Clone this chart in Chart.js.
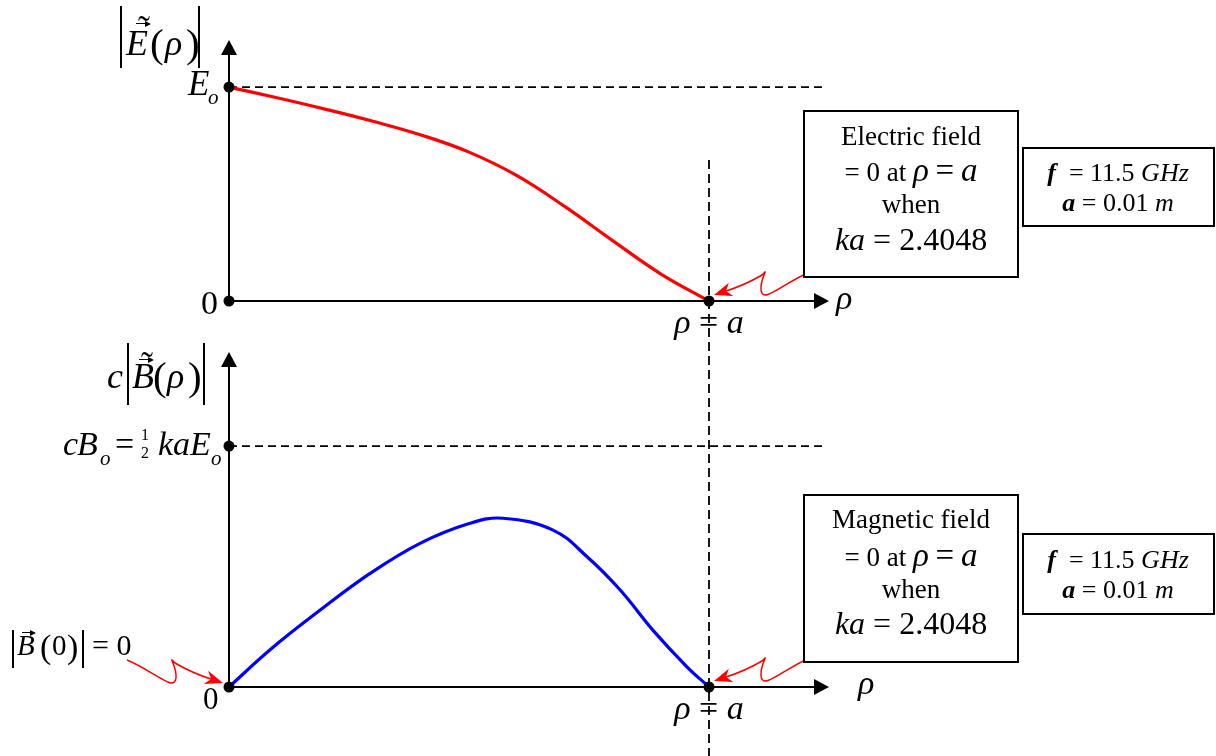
<!DOCTYPE html>
<html>
<head>
<meta charset="utf-8">
<title>TM01 fields in a circular waveguide</title>
<script src="https://cdn.jsdelivr.net/npm/chart.js@4.4.0/dist/chart.umd.min.js"></script>
<style>
  html, body { margin: 0; padding: 0; background: #fff; }
  #stage { position: relative; width: 1216px; height: 756px; overflow: hidden; }
  #stage canvas { position: absolute; left: 0; top: 0; }
  #labels { position: absolute; left: 0; top: 0; width: 1216px; height: 756px; }
  .lbl { position: absolute; line-height: 1; white-space: nowrap; color: #000;
         font-family: 'Liberation Serif', 'Times New Roman', serif; }
  .bar { position: absolute; width: 1.6px; background: #000; }
  .box { position: absolute; box-sizing: border-box; border: 2px solid #000; background: #fff; }
  .vec { position: absolute; height: 1.4px; background: #000; }
  .vec::after { content: ''; position: absolute; right: -5px; top: -2.3px;
                border-left: 6px solid #000; border-top: 3px solid transparent; border-bottom: 3px solid transparent; }
</style>
</head>
<body>
<div id="stage">
  <canvas id="chartE" width="1216" height="756"></canvas>
  <canvas id="chartB" width="1216" height="756"></canvas>
  <div id="labels"></div>
</div>
<script>
// radial position in units of a, field magnitude in units of E_o
const rhoE = [0, 0.1, 0.2, 0.3, 0.4, 0.5, 0.6, 0.7, 0.8, 0.9, 1.0];
const fieldE = [1, 0.950, 0.897, 0.840, 0.776, 0.696, 0.586, 0.441, 0.281, 0.126, 0];

const rhoB = [0, 0.085, 0.19, 0.294, 0.398, 0.502, 0.571, 0.675, 0.746, 0.815, 0.883, 0.954, 1];
const fieldB = [0, 0.185, 0.384, 0.567, 0.717, 0.817, 0.842, 0.783, 0.650, 0.484, 0.284, 0.101, 0];

// reference levels: E_o and cB_o = ka/2 * E_o
const levelE = 1;
const levelB = 1.2024;

const toPoints = (xs, ys) => xs.map((x, i) => ({ x, y: ys[i] }));

// notched arrowhead pointing from (fx,fy) to (tx,ty)
function arrowHead(ctx, fx, fy, tx, ty, len, half) {
  const ang = Math.atan2(ty - fy, tx - fx);
  const c = Math.cos(ang), s = Math.sin(ang);
  const pt = (u, v) => [tx - u * c + v * s, ty - u * s - v * c];
  ctx.beginPath();
  ctx.moveTo(tx, ty);
  ctx.lineTo(...pt(len, half));
  ctx.lineTo(...pt(len * 0.7, 0));
  ctx.lineTo(...pt(len, -half));
  ctx.closePath();
  ctx.fill();
}

// wavy pointer ending at T; dir = 1 comes from the right, -1 from the left
function squiggle(ctx, T, dir) {
  const P = (dx, dy) => [T[0] + dir * dx, T[1] + dy];
  ctx.beginPath();
  ctx.moveTo(...P(96, -23));
  ctx.bezierCurveTo(...P(71, -13), ...P(48, 10), ...P(47, -5));
  ctx.bezierCurveTo(...P(46, -17), ...P(56, -29), ...P(48, -20));
  ctx.quadraticCurveTo(...P(31, -10), ...P(12, -4));
  ctx.stroke();
  arrowHead(ctx, ...P(30, -10), T[0], T[1], 18, 7);
}

const fieldAxes = {
  id: 'fieldAxes',
  beforeDatasetsDraw(chart, args, opts) {
    const { ctx, chartArea: a, scales: { x, y } } = chart;
    const x0 = x.getPixelForValue(0), y0 = y.getPixelForValue(0);
    const xa = x.getPixelForValue(1);
    ctx.save();
    ctx.strokeStyle = '#000';
    ctx.fillStyle = '#000';
    ctx.lineWidth = 1.8;

    // dashed reference level
    const yr = y.getPixelForValue(opts.level);
    ctx.setLineDash([8, 5]);
    ctx.beginPath();
    ctx.moveTo(x0, yr);
    ctx.lineTo(x.getPixelForValue(1.24), yr);
    ctx.stroke();

    // wall of the guide, runs through both panels
    if (opts.wall) {
      ctx.setLineDash([9, 5]);
      ctx.beginPath();
      ctx.moveTo(xa, opts.wall[0]);
      ctx.lineTo(xa, opts.wall[1]);
      ctx.stroke();
    }

    // axes with arrowheads
    ctx.setLineDash([]);
    ctx.lineWidth = 2;
    ctx.beginPath();
    ctx.moveTo(x0, y0); ctx.lineTo(x0, a.top + 12);
    ctx.moveTo(x0, y0); ctx.lineTo(a.right - 12, y0);
    ctx.stroke();
    ctx.beginPath();
    ctx.moveTo(x0, a.top); ctx.lineTo(x0 - 8, a.top + 15); ctx.lineTo(x0 + 8, a.top + 15);
    ctx.fill();
    ctx.beginPath();
    ctx.moveTo(a.right, y0); ctx.lineTo(a.right - 15, y0 - 8); ctx.lineTo(a.right - 15, y0 + 8);
    ctx.fill();
    ctx.restore();
  },
  afterDatasetsDraw(chart, args, opts) {
    const { ctx, scales: { x, y } } = chart;
    const x0 = x.getPixelForValue(0), y0 = y.getPixelForValue(0);
    const xa = x.getPixelForValue(1);
    ctx.save();
    ctx.fillStyle = '#000';
    [[x0, y.getPixelForValue(opts.level)], [x0, y0], [xa, y0]].forEach(([px, py]) => {
      ctx.beginPath();
      ctx.arc(px, py, 5.5, 0, Math.PI * 2);
      ctx.fill();
    });

    ctx.strokeStyle = '#ff0000';
    ctx.fillStyle = '#ff0000';
    ctx.lineWidth = 1.5;
    squiggle(ctx, [xa + 5, y0 - 6], 1);
    if (opts.originPointer) squiggle(ctx, [x0 - 6, y0 - 4], -1);
    ctx.restore();
  }
};

function makeChart(id, xs, ys, color, level, yMax, pad, extra) {
  return new Chart(document.getElementById(id), {
    type: 'line',
    data: {
      datasets: [{
        data: toPoints(xs, ys),
        borderColor: color,
        borderWidth: 3.2,
        pointRadius: 0,
        tension: 0.4,
        clip: false
      }]
    },
    options: {
      responsive: false,
      animation: false,
      events: [],
      layout: { padding: pad },
      scales: {
        x: { type: 'linear', min: 0, max: 1.25, display: false },
        y: { min: 0, max: yMax, display: false }
      },
      plugins: {
        legend: { display: false },
        tooltip: { enabled: false },
        fieldAxes: Object.assign({ level }, extra)
      }
    },
    plugins: [fieldAxes]
  });
}

makeChart('chartE', rhoE, fieldE, '#ff0000', levelE, 1.22,
  { left: 229, right: 387, top: 40, bottom: 455 }, { wall: [160, 756] });
makeChart('chartB', rhoB, fieldB, '#0000ff', levelB, 1.6717,
  { left: 229, right: 387, top: 352, bottom: 69 }, { originPointer: true });

// ---- text ----
const layer = document.getElementById('labels');

// x = left edge (or centre), base = baseline y
function put(html, x, base, size, center) {
  const el = document.createElement('div');
  el.className = 'lbl';
  el.style.left = x + 'px';
  el.style.top = (base - 0.8375 * size) + 'px';
  el.style.fontSize = size + 'px';
  if (center) el.style.transform = 'translateX(-50%)';
  el.innerHTML = html;
  layer.appendChild(el);
  return el;
}
function addDiv(cls, styles) {
  const el = document.createElement('div');
  el.className = cls;
  for (const k in styles) el.style[k] = styles[k] + 'px';
  layer.appendChild(el);
}
const vbar = (x, top, h) => addDiv('bar', { left: x, top, height: h });
const vec = (x, y, w) => addDiv('vec', { left: x, top: y, width: w });
const box = (x, y, w, h) => addDiv('box', { left: x, top: y, width: w, height: h });

// |E(rho)| axis title
vbar(120, 6, 62); vbar(198, 6, 62);
put('<i>E</i>', 126, 55, 36);
put('˜', 144, 41, 36, true);
vec(136, 23, 10);
put('(', 150, 57, 41);
put('<i>ρ</i>', 165, 55, 36);
put(')', 186, 57, 41);

put('<i>E</i>', 188, 95, 35);
put('<i>o</i>', 208, 105, 21);
put('0', 201, 314, 34);
put('<i>ρ</i>', 836, 309, 34);
put('<i>ρ</i> = <i>a</i>', 709, 333, 34, true);

box(803, 110, 216, 168);
put('Electric field', 911, 146, 27, true);
put('= 0 at <i style="font-size:33px">ρ</i> <span style="font-size:33px">=</span> <i style="font-size:33px">a</i>', 911, 177, 27, true);
put('when', 911, 214, 27, true);
put('<i>ka</i> = 2.4048', 911, 250, 32, true);

box(1022, 147, 193, 80);
put('<b><i>f</i></b>&nbsp; = 11.5 <i>GHz</i>', 1118, 182, 26, true);
put('<b><i>a</i></b> = 0.01 <i>m</i>', 1118, 212, 26, true);

// c|B(rho)| axis title
put('<i>c</i>', 107, 388, 36);
vbar(127, 343, 62); vbar(203, 343, 62);
put('<i>B</i>', 132, 388, 36);
put('˜', 147, 377, 36, true);
vec(139, 359, 10);
put('(', 153, 390, 41);
put('<i>ρ</i>', 167, 388, 36);
put(')', 188, 390, 41);

put('<i>c</i>', 63, 455, 34);
put('<i>B</i>', 77, 455, 34);
put('<i>o</i>', 100, 466, 21);
put('=', 115, 455, 34);
put('1', 141, 440, 16);
put('2', 141, 458, 16);
put('<i>kaE</i>', 158, 455, 34);
put('<i>o</i>', 211, 466, 21);

put('0', 203, 709, 31);
put('<i>ρ</i>', 858, 694, 34);
put('<i>ρ</i> = <i>a</i>', 709, 719, 34, true);

vbar(12, 630, 38); vbar(82, 630, 38);
put('<i>B</i>', 17, 655, 29);
vec(22, 632, 9);
put('(', 40, 658, 34);
put('0', 52, 655, 29);
put(')', 67, 658, 34);
put('= 0', 92, 655, 30);

box(803, 494, 216, 169);
put('Magnetic field', 911, 529, 27, true);
put('= 0 at <i style="font-size:33px">ρ</i> <span style="font-size:33px">=</span> <i style="font-size:33px">a</i>', 911, 562, 27, true);
put('when', 911, 599, 27, true);
put('<i>ka</i> = 2.4048', 911, 634, 32, true);

box(1022, 533, 193, 82);
put('<b><i>f</i></b>&nbsp; = 11.5 <i>GHz</i>', 1118, 569, 26, true);
put('<b><i>a</i></b> = 0.01 <i>m</i>', 1118, 599, 26, true);
</script>
</body>
</html>
